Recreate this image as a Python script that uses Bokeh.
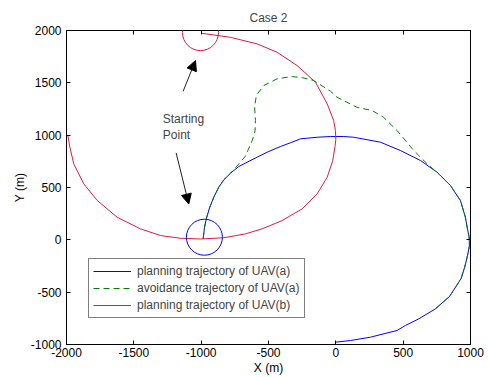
from bokeh.plotting import figure
from bokeh.models import (Range1d, FixedTicker, LinearAxis, Legend, LegendItem,
                          Arrow, NormalHead, Label, BoxAnnotation)
from bokeh.embed import file_html
from bokeh.resources import INLINE

FONT = "Liberation Sans"
BLUE = "#0000ff"
GREEN = "#008000"
RED = "#e6193c"

x_ticks = [-2000, -1500, -1000, -500, 0, 500, 1000]
y_ticks = [-1000, -500, 0, 500, 1000, 1500, 2000]

# planning trajectory of UAV(a)
blue_x = [-985, -975, -960, -936, -906, -869, -832, -782, -720, -658, -584, -510, -411,
          -337, -262, -139, -40, 59, 133, 331, 480, 628, 752, 851, 925, 962, 975, 990,
          992, 975, 957, 930, 845, 740, 616, 517, 455, 257, 109, -3]
blue_y = [10, 121, 210, 312, 408, 503, 573, 637, 701, 742, 790, 837, 892,
          927, 965, 980, 987, 987, 980, 933, 853, 758, 646, 519, 376, 216, 121, 25,
          -60, -166, -261, -370, -540, -659, -755, -818, -866, -930, -962, -978]

# avoidance trajectory of UAV(a)
green_x = [-985, -975, -960, -936, -906, -869, -832, -782, -720, -671, -621, -600, -597,
           -603, -590, -535, -436, -330, -250, -164, -40, 9, 158, 270, 354, 455, 579,
           678, 777, 851, 925, 962, 975, 990, 992, 975, 957, 930, 845, 740]
green_y = [10, 121, 210, 312, 408, 503, 573, 637, 726, 800, 949, 1040, 1140,
           1270, 1380, 1474, 1538, 1560, 1550, 1522, 1420, 1362, 1266, 1235, 1171, 1044, 853,
           726, 615, 519, 376, 216, 121, 25, -60, -166, -261, -370, -540, -659]

# planning trajectory of UAV(b)
red_x = [-993, -783, -584, -436, -287, -151, -64, -16, -3, 0, -5, -23, -64, -139, -250,
         -399, -547, -671, -832, -1005, -1154, -1302, -1451, -1624, -1772, -1872, -1946,
         -1975, -1990]
red_y = [1973, 1935, 1872, 1792, 1665, 1506, 1299, 1140, 1044, 960, 900, 757, 598, 439, 296,
         184, 105, 57, 20, 8, 15, 41, 105, 216, 376, 535, 726, 885, 1000]

legend_labels = ["planning trajectory of UAV(a)",
                 "avoidance trajectory of UAV(a)",
                 "planning trajectory of UAV(b)"]

p = figure(width=488, height=377, output_backend="svg", toolbar_location=None,
           x_range=Range1d(-2000, 1000), y_range=Range1d(-1000, 2000),
           min_border_left=66, min_border_right=18, min_border_top=30,
           min_border_bottom=33, background_fill_color="white",
           border_fill_color="white")
p.grid.visible = False
p.outline_line_color = "black"
p.outline_line_width = 1

p.title.text = "Case 2"
p.title.align = "center"
p.title.text_font = FONT
p.title.text_font_size = "12px"
p.title.text_font_style = "normal"
p.title.standoff = 12

for ax, ticks in ((p.xaxis[0], x_ticks), (p.yaxis[0], y_ticks)):
    ax.ticker = FixedTicker(ticks=ticks)
    ax.major_label_overrides = {t: str(t) for t in ticks}
    ax.major_tick_in = 4
    ax.major_tick_out = 0
    ax.minor_tick_line_color = None
    ax.axis_line_color = "black"
    ax.major_tick_line_color = "black"
    ax.major_label_text_font = FONT
    ax.major_label_text_font_size = "12px"
    ax.major_label_text_color = "black"
    ax.axis_label_text_font = FONT
    ax.axis_label_text_font_size = "12px"
    ax.axis_label_text_font_style = "normal"
    ax.axis_label_text_color = "black"
p.xaxis[0].major_label_standoff = 3
p.xaxis[0].axis_label = "X (m)"
p.xaxis[0].axis_label_standoff = 1
p.yaxis[0].major_label_standoff = 5
p.yaxis[0].axis_label = "Y (m)"
p.yaxis[0].axis_label_standoff = 1

# box-style tick marks on the top and right edges (no labels there)
top_axis = LinearAxis(ticker=FixedTicker(ticks=x_ticks), major_tick_in=4, major_tick_out=0,
                      minor_tick_line_color=None, major_label_text_color=None,
                      major_label_text_font_size="0px", major_label_standoff=0,
                      axis_line_color="black")
right_axis = LinearAxis(ticker=FixedTicker(ticks=y_ticks), major_tick_in=4, major_tick_out=0,
                        minor_tick_line_color=None, major_label_text_color=None,
                        major_label_text_font_size="0px", major_label_standoff=0,
                        axis_line_color="black")
p.add_layout(top_axis, "above")
p.add_layout(right_axis, "right")

rb = p.line(blue_x, blue_y, line_color=BLUE, line_width=1, line_join="round")
rg = p.line(green_x, green_y, line_color=GREEN, line_width=1, line_dash="6 4",
            line_join="round")
rr = p.line(red_x, red_y, line_color=RED, line_width=1, line_join="round")

# start-point circles (drawn as rounded boxes, radius 18 px)
rx, ry = 18 / 0.13467, 18 / 0.10467
for cx, cy, col in ((-1005, 1980, RED), (-976, 25, BLUE)):
    p.add_layout(BoxAnnotation(left=cx - rx, right=cx + rx, bottom=cy - ry, top=cy + ry,
                               border_radius=18, fill_color=None, fill_alpha=0,
                               line_color=col, line_width=1, line_alpha=1))

for xs, ys, xe, ye in ((-1134, 1419, -1042, 1713), (-1186, 831, -1092, 342)):
    p.add_layout(Arrow(x_start=xs, y_start=ys, x_end=xe, y_end=ye,
                       line_color="#222222", line_width=1,
                       end=NormalHead(size=10, fill_color="black", line_color="black")))

p.add_layout(Label(x=-1285, y=1225, text="Starting\nPoint", text_baseline="top",
                   text_align="left", text_font=FONT, text_font_size="12px",
                   text_line_height=1.2))

legend = Legend(items=[LegendItem(label=legend_labels[0], renderers=[rb]),
                       LegendItem(label=legend_labels[1], renderers=[rg]),
                       LegendItem(label=legend_labels[2], renderers=[rr])],
                location=(22, 26), padding=4, spacing=1, glyph_height=16, label_height=16,
                glyph_width=38, label_standoff=6, margin=0,
                label_text_font=FONT, label_text_font_size="12px",
                border_line_color="black", border_line_width=1,
                background_fill_color="white", background_fill_alpha=1)
p.add_layout(legend)

open("out.html", "w").write(file_html(p, INLINE))
